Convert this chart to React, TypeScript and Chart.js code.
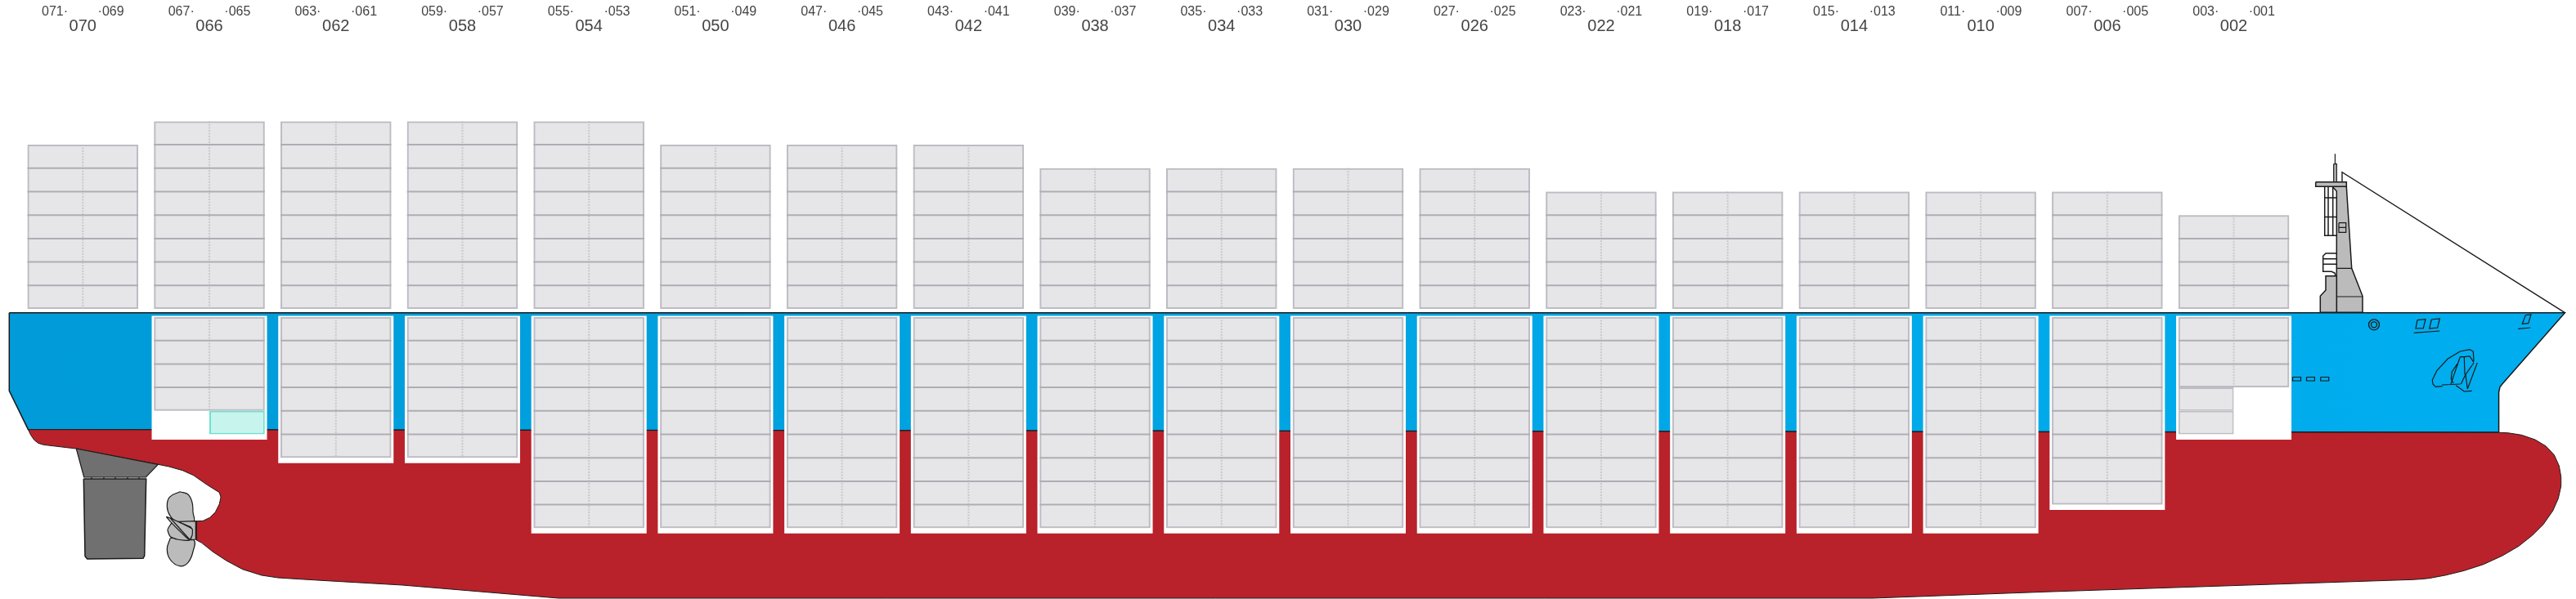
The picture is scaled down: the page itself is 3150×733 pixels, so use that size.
import React, { useEffect, useRef } from 'react';
import { Chart, registerables } from 'chart.js';

Chart.register(...registerables);

const bayLabels = ['070', '066', '062', '058', '054', '050', '046', '042', '038', '034', '030', '026', '022', '018', '014', '010', '006', '002'];
const slotLabels = [
  '071·', '·069', '067·', '·065', '063·', '·061', '059·', '·057', '055·', '·053', '051·', '·049',
  '047·', '·045', '043·', '·041', '039·', '·037', '035·', '·033', '031·', '·029', '027·', '·025',
  '023·', '·021', '019·', '·017', '015·', '·013', '011·', '·009', '007·', '·005', '003·', '·001',
];
const deckTiers = [7, 8, 8, 8, 8, 7, 7, 7, 6, 6, 6, 6, 5, 5, 5, 5, 5, 4];
const holdTiers = [0, 4, 6, 6, 9, 9, 9, 9, 9, 9, 9, 9, 9, 9, 9, 9, 8, 3];
// tiers below the full ones where only one side of the bay is stowed
const holdLeftOnly = [0, 0, 0, 0, 0, 0, 0, 0, 0, 0, 0, 0, 0, 0, 0, 0, 0, 2];
const holdRightMarked = [0, 1, 0, 0, 0, 0, 0, 0, 0, 0, 0, 0, 0, 0, 0, 0, 0, 0];

// outlines, in the frame units of the x / y axes
const hullBlue = [[11.3, 382.7], [3136.4, 382.7], [3060, 469.7], [3057, 473.5], [3055.6, 480], [3055.6, 529], [34.5, 525.7], [11.3, 478.3], [11.3, 382.7]];
const hullRed = [
  [34.5, 525.7], [37.3, 531.7], [41.7, 538.3], [46.7, 542.3], [53.3, 544.3], [86.7, 548.3], [93.3, 549], [193.3, 568.3],
  [206.7, 571], [223.3, 575.7], [236.7, 581.7], [253.3, 593.3], [268.3, 602.7], [270, 608.3], [268.3, 616.7], [263.3, 626.7],
  [256.7, 633.3], [248.3, 637.3], [240, 637.7], [240, 660.7], [246.7, 664.3], [260, 675], [276.7, 686], [296.7, 696.7],
  [320, 704], [340, 707], [360, 708.3], [400, 710.7], [492, 716], [683, 732], [2290, 732], [2500, 724.3],
  [2950, 709.3], [2960, 708.7], [2970, 707.7], [2990, 704], [3013.3, 698.3], [3036.7, 690.7], [3060, 680], [3080, 668.3],
  [3096.7, 655], [3110, 641.7], [3121.7, 625], [3128.3, 610], [3131.7, 595], [3131.7, 583.3], [3129.3, 570], [3123.3, 556.7],
  [3113.3, 546], [3100, 538], [3083.3, 532.3], [3066.7, 529.7], [3055.3, 529.3], [34.5, 525.7],
];
const skeg = [[93.3, 549], [193.3, 568.3], [178.3, 584], [102.7, 584], [93.3, 549]];
const rudder = [[102.3, 586], [178.7, 586], [176.7, 680], [175, 683.3], [106.7, 684], [104, 680.7], [102.3, 586]];
const rudderGap = [[112, 584], [112, 586], null, [127, 584], [127, 586], null, [141, 584], [141, 586], null, [156, 584], [156, 586], null, [170, 584], [170, 586]];
const bladeTop = [[220, 601.7], [230, 605], [235, 615], [236, 626.7], [236.7, 638.3], [216.7, 638.3], [208.3, 631.7], [204.3, 620], [207.3, 608.3], [220, 601.7]];
const bladeBottom = [[208.3, 658.3], [204.3, 671.7], [208.3, 685], [220, 692.7], [230, 688.3], [236, 675], [236.7, 660.7], [208.3, 658.3]];
const bladeMiddle = [[215, 637.3], [210, 640], [205, 648.3], [208.3, 656.7], [216.7, 660], [231.7, 660.7], [215, 637.3]];
const propHub = [[216.7, 638.3], [239.3, 637.7], [239.3, 660], [233.3, 660.7], [235, 648.3], [233.3, 645], [220, 639.3], [216.7, 638.3]];
const bladeSwept = [[203.3, 632.3], [208.3, 634], [235, 647.3], [235, 655], [231.7, 660.7], [223.3, 653.3], [208.3, 638.3], [203.3, 632.3]];
const bladeEdge = [[208.3, 634], [231.7, 660]];

const bridgeLower = [[2837.3, 382.3], [2837.3, 362.3], [2844, 355], [2844, 337.7], [2857.3, 337.7], [2857.3, 382.3], [2837.3, 382.3]];
const bridgeTower = [[2857.3, 382.3], [2889, 382.3], [2889, 362.3], [2875.7, 328.3], [2869.3, 228.3], [2852, 228.3], [2857.3, 234], [2857.3, 382.3]];
const bridgePlatform = [[2831.7, 222.7], [2869.3, 222.7], [2869.3, 228.3], [2831.7, 228.3], [2831.7, 222.7]];
const mast = [[2853.7, 200.7], [2857.3, 200.7], [2857.3, 222.7], [2853.7, 222.7], [2853.7, 200.7]];
const antenna = [[2855.4, 188.3], [2855.4, 200.7]];
const bridgeBands = [[2857.3, 328.3], [2875.7, 328.3], null, [2857.3, 363], [2889, 363]];
const windowFrame = [[2857.3, 228.3], [2842.7, 228.3], [2842.7, 288.3], [2857.3, 288.3], null, [2842.7, 242], [2857.3, 242], null, [2842.7, 265.5], [2857.3, 265.5], null, [2847, 228.3], [2847, 288.3], null, [2852.7, 228.3], [2852.7, 288.3]];
const windowBox = [[2860, 272.7], [2868.7, 272.7], [2868.7, 284.3], [2860, 284.3], [2860, 272.7], null, [2860, 278.3], [2868.7, 278.3]];
const stairs = [[2857.3, 310], [2844, 310], [2840.7, 313.3], [2840.7, 332.3], [2851, 332.3], [2855, 334], [2856, 337.7], null, [2840.7, 316.7], [2857.3, 316.7], null, [2840.7, 323.3], [2857.3, 323.3]];
const forestay = [[2864, 222.7], [2864, 210.7], [3136.4, 382.7]];

const hawseSlots = [
  [2803.5, 461.5], [2813.5, 461.5], [2813.5, 466], [2803.5, 466], [2803.5, 461.5], null,
  [2820.5, 461.5], [2830.4, 461.5], [2830.4, 466], [2820.5, 466], [2820.5, 461.5], null,
  [2837.7, 461.5], [2847.7, 461.5], [2847.7, 466], [2837.7, 466], [2837.7, 461.5],
];
const bowMarks = [
  [2956, 391.7], [2966, 390.7], [2963.3, 401.7], [2954, 402], [2956, 391.7], null,
  [2973.3, 391], [2983.3, 390], [2980.7, 401], [2970.7, 402], [2973.3, 391], null,
  [2951.7, 407.3], [2983.3, 405], null,
  [3088.3, 385.7], [3095, 385], [3091.7, 395.7], [3084.3, 396.3], [3088.3, 385.7], null,
  [3079.3, 402.3], [3094.3, 401],
];
const anchorPocket = [
  [2986.7, 472.7], [2978.3, 473.3], [2975, 470], [2974.3, 465], [2980, 453.3], [2993.3, 439], [3008.3, 430], [3020, 427.7], [3024.3, 430], [3025, 441.7], null,
  [2986, 471], [3008.3, 470], null,
  [3008.3, 436.7], [2996.7, 470.7], null,
  [3008.3, 436.7], [3013.3, 436.7], [3020, 436], [3025, 443.3], null,
  [3013.3, 436.7], [3014, 458.3], null,
  [3029.3, 444], [3017.3, 476], null,
  [3025, 444], [3015, 458.3], [3009.3, 470], null,
  [3003.3, 471.7], [3013.3, 479], [3022.7, 478.3], null,
  [3015, 458.3], [3017.3, 476], null,
  [3005, 445], [2998.3, 455], [2997.3, 463.3], [3000, 469],
];
const portHole = [[2903, 397.3]];

const FRAME_W = 3150;
const FRAME_H = 733;
const SLOT_AXIS_H = 24;
const BAY_AXIS_H = 20;
const FIRST_BAY = 101.3;
const BAY_PITCH = 154.72;
const SLOT_OFFSET = 34.3;
const TIER_H = 28.7;
const DECK_BOTTOM = 378;
const HOLD_TOP = 388;
const CELL_W = 135.5;
const WELL_W = 141;

const toPoints = (list: any[]) => list.map((p) => (p ? { x: p[0], y: p[1] } : { x: NaN, y: NaN }));

const bayX = (i: number) => FIRST_BAY + BAY_PITCH * i;

const outline = (list: any[], layer: number, opts: any = {}) => ({
  type: 'line',
  order: layer,
  data: toPoints(list),
  borderColor: '#1a1a1a',
  borderWidth: 1.2,
  pointRadius: 0,
  tension: 0,
  spanGaps: false,
  ...opts,
});

const shape = (list: any[], layer: number, color: any, opts: any = {}) =>
  outline(list, layer, { fill: 'shape', backgroundColor: color, ...opts });

// every cell is a floating bar; same stack so the explicit thickness is kept
const bars = (data: any[], layer: number, width: number, opts: any) => ({
  type: 'bar',
  order: layer,
  stack: 'cells',
  barThickness: width,
  borderSkipped: false,
  inflateAmount: 0,
  data,
  ...opts,
});

const ring = (layer: number, radius: number) => ({
  type: 'line',
  order: layer,
  data: toPoints(portHole),
  showLine: false,
  pointRadius: radius,
  pointBorderWidth: 1.3,
  pointBorderColor: '#1a1a1a',
  pointBackgroundColor: 'rgba(0,0,0,0)',
});

const tierBars = () => {
  const cells: any[] = [];
  const frames: any[] = [];
  const halves: any[] = [];
  const marked: any[] = [];
  const wells: any[] = [];
  const dots: any[] = [];
  const dividers: any[] = [];
  const half = CELL_W / 2;
  const addStack = (x: number, top: number, tiers: number) => {
    for (let t = 0; t < tiers; t++) {
      const y = top + TIER_H * t;
      cells.push({ x, y: [y, y + TIER_H] });
      if (t > 0) dividers.push([x - half, y], [x + half, y], null);
    }
    const bottom = top + TIER_H * tiers;
    frames.push({ x, y: [top, bottom] });
    dots.push([x, top], [x, bottom], null);
    return bottom;
  };
  deckTiers.forEach((tiers, i) => {
    addStack(bayX(i), DECK_BOTTOM - TIER_H * tiers, tiers);
  });
  holdTiers.forEach((tiers, i) => {
    if (!tiers) return;
    const x = bayX(i);
    const bottom = addStack(x, HOLD_TOP, tiers);
    for (let t = 0; t < holdLeftOnly[i]; t++) {
      halves.push({ x: x - half / 2, y: [bottom + TIER_H * t, bottom + TIER_H * (t + 1)] });
    }
    for (let t = 0; t < holdRightMarked[i]; t++) {
      marked.push({ x: x + half / 2, y: [bottom + TIER_H * t, bottom + TIER_H * (t + 1)] });
    }
    const depth = tiers + holdLeftOnly[i] + holdRightMarked[i];
    wells.push({ x, y: [HOLD_TOP - 1.5, HOLD_TOP + TIER_H * depth + 6.5] });
  });
  return { cells, frames, halves, marked, wells, dots, dividers };
};

export default function App() {
  const canvasRef = useRef<HTMLCanvasElement>(null);

  useEffect(() => {
    const canvas = canvasRef.current;
    if (!canvas) return;
    const ctx = canvas.getContext('2d');
    const blue = ctx.createLinearGradient(0, 0, FRAME_W, 0);
    blue.addColorStop(0, '#009bd8');
    blue.addColorStop(1, '#00aeef');

    const { cells, frames, halves, marked, wells, dots, dividers } = tierBars();
    const slotTicks = bayLabels.flatMap((_, i) => [bayX(i) - SLOT_OFFSET, bayX(i) + SLOT_OFFSET]);
    const bayTicks = bayLabels.map((_, i) => bayX(i));
    const topAxis = (labels: string[], ticksAt: number[], size: number, height: number, weight: number) => ({
      type: 'linear',
      position: 'top',
      min: 0,
      max: FRAME_W,
      weight,
      grid: { display: false, drawTicks: false },
      border: { display: false },
      afterBuildTicks: (axis: any) => {
        axis.ticks = ticksAt.map((value) => ({ value }));
      },
      afterFit: (axis: any) => {
        axis.height = height;
      },
      ticks: {
        autoSkip: false,
        maxRotation: 0,
        minRotation: 0,
        padding: 0,
        color: '#444444',
        font: { family: '"Liberation Sans", Arial, sans-serif', size },
        callback: (_: any, index: number) => labels[index],
      },
    });

    const chart = new Chart(canvas, {
      data: {
        datasets: [
          // back to front: higher order is painted first
          shape(hullBlue, 90, blue, { borderWidth: 1.5 }),
          shape(hullRed, 89, '#b9222a', { borderWidth: 1 }),
          shape(skeg, 88, '#707070'),
          shape(rudder, 88, '#707070', { borderWidth: 1.5 }),
          outline(rudderGap, 88),
          shape(bladeTop, 87, '#bbbbbb', { tension: 0.4 }),
          shape(bladeBottom, 87, '#bbbbbb', { tension: 0.4 }),
          shape(bladeMiddle, 86, '#bbbbbb', { tension: 0.2 }),
          shape(propHub, 85, '#bbbbbb'),
          shape(bladeSwept, 84, '#bbbbbb', { tension: 0.15 }),
          outline(bladeEdge, 83),
          outline(forestay, 80, { borderWidth: 1.4 }),
          outline(antenna, 79),
          shape(mast, 79, '#bbbbbb'),
          shape(bridgeLower, 79, '#bbbbbb', { borderWidth: 1.5 }),
          shape(bridgeTower, 79, '#bbbbbb', { borderWidth: 1.5 }),
          shape(bridgePlatform, 78, '#bbbbbb', { borderWidth: 1.5 }),
          outline(bridgeBands, 78),
          outline(windowFrame, 78, { borderWidth: 1.5 }),
          outline(windowBox, 78),
          outline(stairs, 78, { borderWidth: 1.5 }),
          outline(hawseSlots, 77),
          outline(bowMarks, 77),
          outline(anchorPocket, 77),
          ring(77, 6.5),
          ring(77, 3.5),
          bars(wells, 60, WELL_W, { backgroundColor: '#ffffff', borderWidth: 0 }),
          bars(cells, 50, CELL_W, { backgroundColor: '#e6e6e8', borderWidth: 0 }),
          bars(halves, 49, CELL_W / 2, { backgroundColor: '#e6e6e8', borderColor: '#bdbcc4', borderWidth: 2 }),
          bars(marked, 49, CELL_W / 2, { backgroundColor: '#c8f4ee', borderColor: '#6fe0d0', borderWidth: 2 }),
          outline(dots, 48, { borderColor: '#c9c9cd', borderWidth: 2, borderDash: [2, 1.5] }),
          bars(frames, 47, CELL_W, { backgroundColor: 'rgba(0,0,0,0)', borderColor: '#bdbcc4', borderWidth: 2 }),
          outline(dividers, 46, { borderColor: '#aeadb5', borderWidth: 2 }),
        ],
      } as any,
      options: {
        responsive: false,
        devicePixelRatio: 1,
        animation: false,
        events: [],
        layout: { padding: 0, autoPadding: false },
        plugins: { legend: { display: false }, tooltip: { enabled: false } },
        scales: {
          x: { type: 'linear', display: false, min: 0, max: FRAME_W, offset: false },
          y: { type: 'linear', display: false, reverse: true, min: SLOT_AXIS_H + BAY_AXIS_H, max: FRAME_H, stacked: false },
          xSlot: topAxis(slotLabels, slotTicks, 16, SLOT_AXIS_H, 2),
          xBay: topAxis(bayLabels, bayTicks, 20, BAY_AXIS_H, 1),
        },
      } as any,
    });

    return () => chart.destroy();
  }, []);

  return (
    <div style={{ position: 'absolute', left: 0, top: 0, width: FRAME_W, height: FRAME_H, background: '#ffffff' }}>
      <canvas ref={canvasRef} width={FRAME_W} height={FRAME_H} style={{ display: 'block' }} />
    </div>
  );
}
